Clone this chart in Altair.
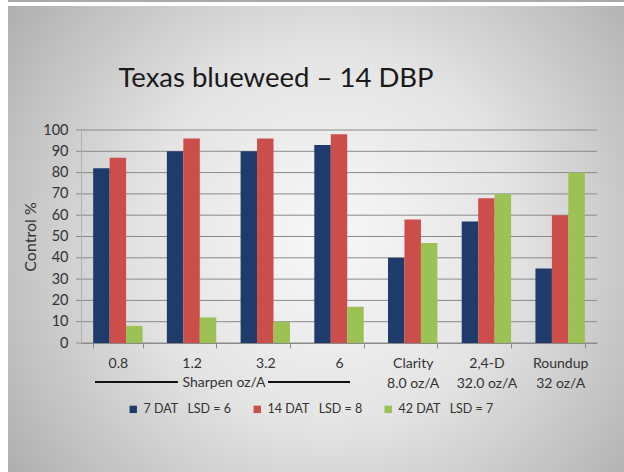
import altair as alt
import pandas as pd

categories = ["0.8", "1.2", "3.2", "6", "Clarity|8.0 oz/A", "2,4-D|32.0 oz/A", "Roundup|32 oz/A"]
series = ["7 DAT\u00a0\u00a0\u00a0LSD = 6", "14 DAT\u00a0\u00a0\u00a0LSD = 8", "42 DAT\u00a0\u00a0\u00a0LSD = 7"]
dat7 = [82, 90, 90, 93, 40, 57, 35]
dat14 = [87, 96, 96, 98, 58, 68, 60]
dat42 = [8, 12, 10, 17, 47, 70, 80]
colors = ["#1f3b6b", "#cc4e4a", "#9cc154"]
y_ticks = list(range(0, 101, 10))

rows = []
for s, vals in zip(series, [dat7, dat14, dat42]):
    for c, v in zip(categories, vals):
        rows.append({"cat": c, "series": s, "value": v})
df = pd.DataFrame(rows)

W, H = 516, 213
PL, PT = 81, 130
FONT = "Lato"

bg = alt.Chart(alt.Data(values=[{}])).mark_rect(
    fill={
        "gradient": "radial",
        "x1": 0.52, "y1": 0.5, "r1": 0,
        "x2": 0.52, "y2": 0.5, "r2": 0.75,
        "stops": [
            {"offset": 0, "color": "#f8f8f8"},
            {"offset": 0.4, "color": "#e4e4e4"},
            {"offset": 0.78, "color": "#b8b8b8"},
            {"offset": 1, "color": "#9c9c9c"},
        ],
    }
).encode(x=alt.value(8 - PL), x2=alt.value(624 - PL), y=alt.value(6 - PT), y2=alt.value(472 - PT))

topband = alt.Chart(alt.Data(values=[{}])).mark_rect(fill="#a9a9a9").encode(
    x=alt.value(8 - PL), x2=alt.value(624 - PL), y=alt.value(0 - PT), y2=alt.value(2 - PT)
)

yaxis = alt.Axis(
    title="Control %",
    titleFont=FONT,
    titleFontSize=16,
    titleFontWeight="normal",
    titleColor="#333333",
    titlePadding=4,
    values=y_ticks,
    labelOverlap=False,
    labelFont=FONT,
    labelFontSize=14.5,
    labelColor="#333333",
    labelPadding=13,
    ticks=False,
    grid=False,
    domainColor="#b0b0b0",
    zindex=1,
)

grid = alt.Chart(pd.DataFrame({"v": y_ticks})).mark_rule(color="#8a8a8a", strokeWidth=1).encode(
    y=alt.Y("v:Q", scale=alt.Scale(domain=[0, 100]), axis=yaxis),
    x=alt.value(-5),
    x2=alt.value(W),
)

bars = alt.Chart(df).mark_bar().encode(
    x=alt.X(
        "cat:N",
        sort=categories,
        scale=alt.Scale(paddingInner=0.33, paddingOuter=0.165),
        axis=alt.Axis(
            title=None,
            labelExpr="split(datum.label, '|')",
            labelAngle=0,
            labelFont=FONT,
            labelFontSize=14,
            labelColor="#333333",
            labelPadding=8,
            labelLineHeight=20,
            tickBand="extent",
            ticks=True,
            tickSize=5,
            tickColor="#8a8a8a",
            domainColor="#8a8a8a",
            grid=False,
            zindex=1,
        ),
    ),
    xOffset=alt.XOffset("series:N", sort=series, scale=alt.Scale(paddingInner=0, paddingOuter=0)),
    y=alt.Y("value:Q", scale=alt.Scale(domain=[0, 100]), axis=yaxis),
    color=alt.Color(
        "series:N",
        sort=series,
        scale=alt.Scale(domain=series, range=colors),
        legend=alt.Legend(
            title=None,
            orient="none",
            legendX=46,
            legendY=273,
            direction="horizontal",
            symbolType="square",
            symbolSize=55,
            symbolStrokeWidth=0,
            labelFont=FONT,
            labelFontSize=12.5,
            labelColor="#333333",
            labelOffset=4,
            columnPadding=19,
        ),
    ),
)

title = alt.Chart(alt.Data(values=[{"t": "Texas blueweed \u2013 14 DBP"}])).mark_text(
    font=FONT, fontSize=27.5, color="#1a1a1a", align="center", baseline="alphabetic"
).encode(text="t:N", x=alt.value(276 - PL), y=alt.value(87 - PT))

sharpen = alt.Chart(alt.Data(values=[{"t": "Sharpen oz/A"}])).mark_text(
    font=FONT, fontSize=14, color="#333333", align="center", baseline="middle"
).encode(text="t:N", x=alt.value(224 - PL), y=alt.value(383 - PT))

lines = alt.Chart(alt.Data(values=[{"a": 95, "b": 178}, {"a": 268, "b": 350}])).mark_rule(
    color="#111111", strokeWidth=2
).encode(
    x=alt.X("a:Q", scale=None), x2="b:Q", y=alt.value(382 - PT)
).transform_calculate(a=f"datum.a - {PL}", b=f"datum.b - {PL}")

chart = alt.layer(bg, topband, grid, bars, title, sharpen, lines).properties(
    width=W, height=H,
    autosize=alt.AutoSizeParams(type="none"),
    padding={"left": PL, "top": PT, "right": 624 - PL - W, "bottom": 472 - PT - H},
    background="#ffffff",
).configure_view(strokeWidth=0)

chart.save("out.html", embed_options={"renderer": "svg", "actions": False})
